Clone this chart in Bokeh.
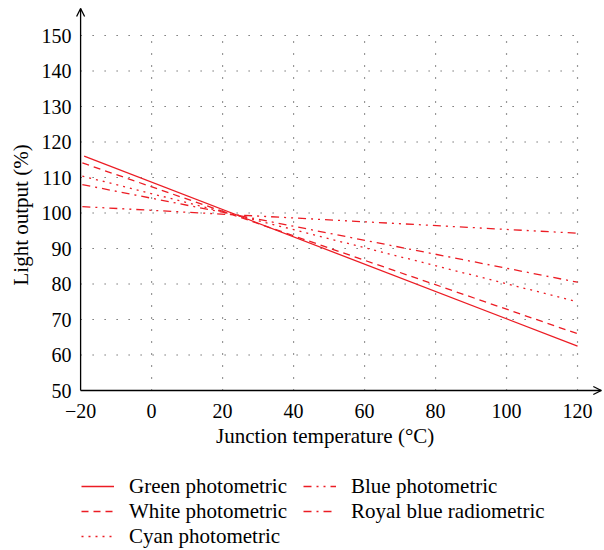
from bokeh.plotting import figure
from bokeh.layouts import column
from bokeh.models import (Legend, LegendItem, FixedTicker, Arrow, OpenHead,
                          Range1d, Title)
from bokeh.embed import file_html
from bokeh.resources import INLINE

# ---- data ----
series_names = ["Green photometric", "White photometric", "Cyan photometric",
                "Blue photometric", "Royal blue radiometric"]
temp_start = [-19.0, -19.5, -19.5, -19.5, -19.5]
temp_end = [120.0, 120.0, 120.0, 120.0, 120.0]
out_start = [116.0, 114.1, 110.4, 101.8, 108.0]
out_end = [62.5, 66.0, 75.0, 94.3, 80.5]
series_dash = ["solid", "7 5", "2 5", "8 5 2 5 2 5", "8 5 2 5"]

x_ticks = [-20, 0, 20, 40, 60, 80, 100, 120]
y_ticks = [50, 60, 70, 80, 90, 100, 110, 120, 130, 140, 150]
x_label = "Junction temperature (°C)"
y_label = "Light output (%)"
x_axis_end = 126.7   # arrow tip of the temperature axis
y_axis_end = 157.6   # arrow tip of the light output axis

RED = "#ec1c24"
FONT = "Liberation Serif"

p = figure(width=604, height=466, output_backend="svg", toolbar_location=None,
           x_range=Range1d(-22.0, 127.6), y_range=Range1d(48.03, 159.86),
           min_border_left=72, min_border_right=0, min_border_top=0,
           min_border_bottom=69)
p.outline_line_color = None
p.background_fill_color = "white"
p.xgrid.visible = False
p.ygrid.visible = False

xmin, xmax = x_ticks[0], x_ticks[-1]
ymin, ymax = y_ticks[0], y_ticks[-1]

# dotted grid within the data box
p.segment(x0=x_ticks[1:], y0=[ymin] * (len(x_ticks) - 1),
          x1=x_ticks[1:], y1=[ymax] * (len(x_ticks) - 1),
          line_color="#333333", line_width=1.2, line_dash="1 11")
p.segment(x0=[xmin] * (len(y_ticks) - 1), y0=y_ticks[1:],
          x1=[xmax] * (len(y_ticks) - 1), y1=y_ticks[1:],
          line_color="#333333", line_width=1.2, line_dash="1 11")

# axis lines with arrow heads
p.segment(x0=[xmin, xmin], y0=[ymin, ymin], x1=[x_axis_end, xmin],
          y1=[ymin, y_axis_end], line_color="black", line_width=1.3)
p.add_layout(Arrow(end=OpenHead(size=8, line_width=1.3, line_color="black"),
                   x_start=x_axis_end - 1, y_start=ymin, x_end=x_axis_end, y_end=ymin,
                   line_width=1.3, line_color="black"))
p.add_layout(Arrow(end=OpenHead(size=8, line_width=1.3, line_color="black"),
                   x_start=xmin, y_start=y_axis_end - 1, x_end=xmin, y_end=y_axis_end,
                   line_width=1.3, line_color="black"))

for name, xs, xe, ys, ye, d in zip(series_names, temp_start, temp_end,
                                   out_start, out_end, series_dash):
    p.line([xs, xe], [ys, ye], line_color=RED, line_width=1.3, line_dash=d)

for ax in (p.xaxis[0], p.yaxis[0]):
    ax.axis_line_color = None
    ax.major_tick_line_color = None
    ax.minor_tick_line_color = None
    ax.major_tick_out = 0
    ax.major_tick_in = 0
    ax.minor_tick_out = 0
    ax.major_label_text_font = FONT
    ax.major_label_text_font_size = "20px"
    ax.major_label_text_color = "black"

p.xaxis.ticker = FixedTicker(ticks=x_ticks)
p.xaxis.major_label_overrides = {-20: "\u221220"}
p.xaxis.major_label_standoff = 6

p.yaxis.ticker = FixedTicker(ticks=y_ticks)
p.yaxis.major_label_standoff = 2

# axis titles (centred on the data box)
p.add_layout(Title(text=y_label, align="left", offset=112, standoff=12,
                   text_font=FONT, text_font_size="21px",
                   text_font_style="normal", text_color="black"), "left")
p.add_layout(Title(text=x_label, align="left", offset=142.5, standoff=3,
                   text_font=FONT, text_font_size="21px",
                   text_font_style="normal", text_color="black"), "below")

# ---- legend panel ----
p2 = figure(width=604, height=84, output_backend="svg", toolbar_location=None,
            x_range=Range1d(0, 1), y_range=Range1d(0, 1),
            x_axis_type=None, y_axis_type=None,
            min_border_left=0, min_border_right=0, min_border_top=0,
            min_border_bottom=0)
p2.outline_line_color = None
p2.xgrid.visible = False
p2.ygrid.visible = False
items = []
for name, xs, xe, ys, ye, d in zip(series_names, temp_start, temp_end,
                                   out_start, out_end, series_dash):
    # same series, outside this panel's view: only its legend glyph shows
    r = p2.line([xs, xe], [ys, ye], line_color=RED, line_width=1.3, line_dash=d)
    items.append(LegendItem(label=name, renderers=[r]))

legend = Legend(items=items, orientation="vertical", ncols=2,
                location=(8, 1.5), margin=0, padding=0, spacing=0,
                border_line_color=None, background_fill_alpha=0,
                glyph_width=33, glyph_height=22, label_height=22,
                label_width=174, label_standoff=15,
                label_text_font=FONT, label_text_font_size="21px",
                label_text_color="black")
p2.add_layout(legend, "center")

layout = column(p, p2, spacing=0)
open("out.html", "w").write(file_html(layout, INLINE))
